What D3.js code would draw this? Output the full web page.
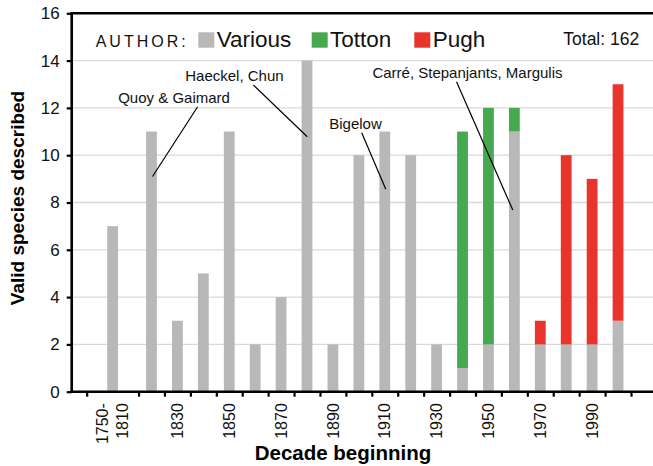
<!DOCTYPE html>
<html>
<head>
<meta charset="utf-8">
<script src="https://cdn.jsdelivr.net/npm/d3@7/dist/d3.min.js"></script>
<style>
  body { margin: 0; background: #fff; }
  svg { display: block; font-family: "Liberation Sans", Arial, Helvetica, sans-serif; }
</style>
</head>
<body>
<svg id="chart" width="653" height="466"></svg>
<script>
// slot boundaries on the year axis (first slot groups 1750-1810)
var slotStart = [1800, 1820, 1830, 1840, 1850, 1860, 1870, 1880, 1890, 1900,
                 1910, 1920, 1930, 1940, 1950, 1960, 1970, 1980, 1990, 2000, 2010];
var slotLabel = ["1750-|1810", "1820", "1830", "1840", "1850", "1860", "1870", "1880", "1890", "1900",
                 "1910", "1920", "1930", "1940", "1950", "1960", "1970", "1980", "1990", "2000"];

var various = [7, 11, 3, 5, 11, 2, 4, 14, 2, 10, 11, 10, 2, 1, 2, 11, 2, 2, 2, 3];
var totton  = [0, 0, 0, 0, 0, 0, 0, 0, 0, 0, 0, 0, 0, 10, 10, 1, 0, 0, 0, 0];
var pugh    = [0, 0, 0, 0, 0, 0, 0, 0, 0, 0, 0, 0, 0, 0, 0, 0, 1, 8, 7, 10];

var yTicks = [0, 2, 4, 6, 8, 10, 12, 14, 16];

// annotation text anchor and leader line, in [year, value]
var notes = [
  {text: "Quoy & Gaimard", at: [1833.7, 12.2], line: [[1842.8, 12.05], [1825.4, 9.1]]},
  {text: "Haeckel, Chun", at: [1857.0, 13.12], line: [[1864.3, 12.97], [1885.1, 10.78]]},
  {text: "Bigelow", at: [1903.7, 11.1], line: [[1906.1, 10.95], [1915.4, 8.56]]},
  {text: "Carré, Stepanjants, Margulis", at: [1946.9, 13.26], line: [[1942.7, 13.11], [1964.4, 7.68]]}
];

var colors = {various: "#b8b8b8", totton: "#47a94f", pugh: "#e8342a"};

var svg = d3.select("#chart");
var plotLeft = 71.7, plotRight = 653, plotTop = 13.3, plotBottom = 391.7;

var x = d3.scaleLinear().domain([1800, 2010]).range([86.7, 631]);
var y = d3.scaleLinear().domain([0, 16]).range([plotBottom, plotTop]);
var barW = 10.8;

var slots = slotLabel.map(function (lab, i) {
  var v = various[i], t = totton[i], p = pugh[i];
  return {
    label: lab, i: i,
    mid: (slotStart[i] + slotStart[i + 1]) / 2,
    segs: [
      {key: "various", y0: 0, y1: v},
      {key: "totton", y0: v, y1: v + t},
      {key: "pugh", y0: v + t, y1: v + t + p}
    ].filter(function (s) { return s.y1 > s.y0; })
  };
});

// gridlines
svg.append("g").selectAll("line")
  .data(yTicks.filter(function (d) { return d > 0 && d < 16; }))
  .enter().append("line")
  .attr("x1", plotLeft).attr("x2", plotRight)
  .attr("y1", function (d) { return y(d); }).attr("y2", function (d) { return y(d); })
  .attr("stroke", "#d9d9d9").attr("stroke-width", 1.3);

// bars
svg.append("g").selectAll("g")
  .data(slots).enter().append("g")
  .selectAll("rect")
  .data(function (d) { return d.segs.map(function (s) { s.mid = d.mid; return s; }); })
  .enter().append("rect")
  .attr("x", function (s) { return x(s.mid) - barW / 2; })
  .attr("width", barW)
  .attr("y", function (s) { return y(s.y1); })
  .attr("height", function (s) { return y(s.y0) - y(s.y1); })
  .attr("fill", function (s) { return colors[s.key]; });

// top frame line
svg.append("line")
  .attr("x1", plotLeft).attr("x2", plotRight).attr("y1", plotTop).attr("y2", plotTop)
  .attr("stroke", "#000").attr("stroke-width", 2.6);

// y axis
var yAxis = d3.axisLeft(y).tickValues(yTicks).tickSize(5).tickPadding(7);
var gy = svg.append("g").attr("transform", "translate(" + plotLeft + ",0)").call(yAxis);
gy.select(".domain").attr("stroke-width", 2.6).attr("d", "M0," + (plotTop - 1.3) + "V" + (plotBottom + 1.3));
gy.selectAll(".tick line").attr("stroke-width", 2.2);
gy.selectAll(".tick text").attr("font-size", 17).attr("font-family", null).attr("fill", "#111");

// x axis
var xAxis = d3.axisBottom(x).tickValues(slotStart).tickSize(5).tickFormat("");
var gx = svg.append("g").attr("transform", "translate(0," + plotBottom + ")").call(xAxis);
gx.select(".domain").attr("stroke-width", 2.6).attr("d", "M" + (plotLeft - 1.3) + ",0H" + plotRight);
gx.selectAll(".tick line").attr("stroke-width", 2.2);

// x tick labels: every other slot, rotated
var xl = svg.append("g").selectAll("text")
  .data(slots.filter(function (d) { return d.i % 2 === 0; }))
  .enter().append("text")
  .attr("transform", function (d) { return "translate(" + x(d.mid) + "," + (plotBottom + 11.5) + ") rotate(-90)"; })
  .attr("text-anchor", "end")
  .attr("font-size", 16)
  .attr("fill", "#111");
xl.each(function (d) {
  var parts = d.label.split("|");
  var t = d3.select(this);
  var off = (parts.length - 1) * 10;
  parts.forEach(function (p, k) {
    t.append("tspan").attr("x", 0).attr("y", -off + k * 20).attr("dy", "0.35em").text(p);
  });
});

// axis titles
svg.append("text")
  .attr("transform", "translate(24,198) rotate(-90)")
  .attr("text-anchor", "middle").attr("font-size", 19).attr("font-weight", "bold")
  .text("Valid species described");
svg.append("text")
  .attr("x", 343).attr("y", 460)
  .attr("text-anchor", "middle").attr("font-size", 20.5).attr("font-weight", "bold")
  .text("Decade beginning");

// annotations
var line = d3.line().x(function (p) { return x(p[0]); }).y(function (p) { return y(p[1]); });
var ng = svg.append("g").selectAll("g").data(notes).enter().append("g");
ng.append("path").attr("d", function (d) { return line(d.line); })
  .attr("stroke", "#000").attr("stroke-width", 1.2).attr("fill", "none");
ng.append("text")
  .attr("x", function (d) { return x(d.at[0]); })
  .attr("y", function (d) { return y(d.at[1]); })
  .attr("text-anchor", "middle").attr("font-size", 15).attr("fill", "#111")
  .text(function (d) { return d.text; });

// legend
var lg = svg.append("g");
lg.append("text").attr("x", 95.7).attr("y", 46.7)
  .attr("font-size", 16).attr("letter-spacing", 3).attr("fill", "#111").text("AUTHOR:");
var legendItems = [
  {key: "various", label: "Various", x: 198.3},
  {key: "totton", label: "Totton", x: 311.7},
  {key: "pugh", label: "Pugh", x: 414.3}
];
var li = lg.selectAll("g.item").data(legendItems).enter().append("g").attr("class", "item");
li.append("rect").attr("x", function (d) { return d.x; }).attr("y", 32.3)
  .attr("width", 16).attr("height", 15.4).attr("fill", function (d) { return colors[d.key]; });
li.append("text").attr("x", function (d) { return d.x + 18.4; }).attr("y", 46.7)
  .attr("font-size", 22.5).attr("fill", "#111").text(function (d) { return d.label; });

svg.append("text").attr("x", 563.3).attr("y", 45)
  .attr("font-size", 17.5).attr("fill", "#111").text("Total: " + d3.sum(various.concat(totton, pugh)));
</script>
</body>
</html>
